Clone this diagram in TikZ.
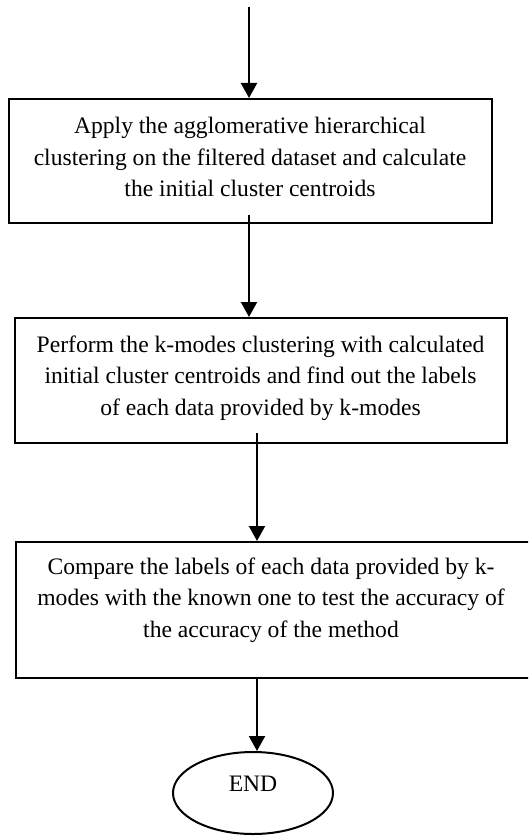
\documentclass[tikz,border=0pt]{standalone}
\usepackage{fontspec}
\setmainfont{Liberation Serif}
\usetikzlibrary{arrows.meta,shapes.geometric}
\begin{document}
\begin{tikzpicture}[x=1pt,y=-1pt,
  box/.style={draw=black,line width=2pt,rectangle,inner sep=0pt},
  txt/.style={align=center,inner sep=0pt,font=\fontsize{23.6}{31.7}\selectfont},
  arr/.style={line width=2.2pt,-{Triangle[width=16pt,length=15pt]}}]
\useasboundingbox (0,0) rectangle (528,837);
\clip (0,0) rectangle (528,837);
\node[box,minimum width=483pt,minimum height=124pt] (b1) at (250.5,161) {};
\node[txt] (t1) at (250,157) {Apply the agglomerative hierarchical\\clustering on the filtered dataset and calculate\\the initial cluster centroids};
\node[box,minimum width=492pt,minimum height=125pt] (b2) at (261,380.5) {};
\node[txt] (t2) at (260.5,378) {Perform the k-modes clustering with calculated\\initial cluster centroids and find out the labels\\of each data provided by k-modes};
\node[box,minimum width=516pt,minimum height=136pt] (b3) at (274,610) {};
\node[txt] (t3) at (271,600) {Compare the labels of each data provided by k-\\modes with the known one to test the accuracy of\\the accuracy of the method};
\node[draw=black,line width=2pt,ellipse,minimum width=160pt,minimum height=82pt,inner sep=0pt] (end) at (253,793) {};
\node[txt] (te) at (253,784) {END};
\coordinate (top) at (249,7);
\coordinate (a2s) at (249,215);
\coordinate (a3s) at (257,433);
\draw[arr] (top) -- (top |- b1.north);
\draw[arr] (a2s) -- (a2s |- b2.north);
\draw[arr] (a3s) -- (a3s |- b3.north);
\draw[arr] (b3.south -| a3s) -- (end.north -| a3s);
\end{tikzpicture}
\end{document}
